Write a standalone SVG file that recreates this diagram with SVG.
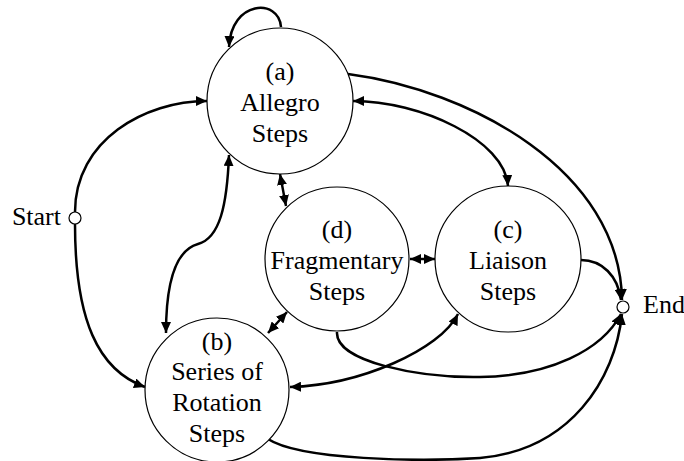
<svg xmlns="http://www.w3.org/2000/svg" width="684" height="461" viewBox="0 0 684 461">
<style>
.node{fill:#fff;stroke:#000;stroke-width:1.2}
.term{fill:#fff;stroke:#000;stroke-width:1.2}
.lbl{font-family:"Liberation Serif","Times New Roman",serif;font-size:26px;fill:#000;text-anchor:middle}
.side{font-family:"Liberation Serif","Times New Roman",serif;font-size:26px;fill:#000}
.edge{fill:none;stroke:#000;stroke-width:2.5}
.one{marker-end:url(#ah)}
.two{marker-end:url(#ah);marker-start:url(#ah)}
</style>
<defs>
<marker id="ah" markerUnits="userSpaceOnUse" markerWidth="12" markerHeight="10" refX="11" refY="5" orient="auto-start-reverse" viewBox="0 0 12 10">
<path d="M0,0 L11,5 L0,10 Z" fill="#000"/>
</marker>
</defs>
<g id="connectors">
<path class="edge one" d="M281,27 C279,-2 231,0 229,47"/>
<path class="edge one" d="M75,212 C75,140 145,101 207,101"/>
<path class="edge one" d="M75,224 C75,320 98,370 145,387"/>
<path class="edge two" d="M229,155 C227,205 220,238 198,244 C176,250 166,280 166,333"/>
<path class="edge two" d="M280,174 L286,206"/>
<path class="edge two" d="M410,259 L435,259"/>
<path class="edge two" d="M268,333 L287,312"/>
<path class="edge two" d="M353,101 C420,101 505,140 508,186"/>
<path class="edge one" d="M348,74 C470,90 620,170 622,300"/>
<path class="edge one" d="M581,260 C602,260 618,276 621,300"/>
<path class="edge one" d="M337,332 C335,362 420,378 480,377 C550,376 602,350 621,314"/>
<path class="edge one" d="M268,439 C300,460 420,462 480,458 C570,450 615,380 622,314"/>
<path class="edge two" d="M290,387 C360,385 440,350 458,314"/>
</g>
<g id="start">
<circle class="term" cx="75" cy="218" r="6"/>
<text class="side" x="61" y="225" text-anchor="end">Start</text>
</g>
<g id="end">
<circle class="term" cx="623" cy="307" r="6"/>
<text class="side" x="643" y="313">End</text>
</g>
<g id="node-a">
<circle class="node" cx="280" cy="101" r="73"/>
<text class="lbl" x="280" y="80">(a)</text>
<text class="lbl" x="280" y="111">Allegro</text>
<text class="lbl" x="280" y="142">Steps</text>
</g>
<g id="node-d">
<circle class="node" cx="337" cy="259" r="72"/>
<text class="lbl" x="337" y="238">(d)</text>
<text class="lbl" x="337" y="269">Fragmentary</text>
<text class="lbl" x="337" y="300">Steps</text>
</g>
<g id="node-c">
<circle class="node" cx="508" cy="259" r="73"/>
<text class="lbl" x="508" y="238">(c)</text>
<text class="lbl" x="508" y="269">Liaison</text>
<text class="lbl" x="508" y="300">Steps</text>
</g>
<g id="node-b">
<circle class="node" cx="217" cy="390" r="72"/>
<text class="lbl" x="217" y="350">(b)</text>
<text class="lbl" x="217" y="380">Series of</text>
<text class="lbl" x="217" y="411">Rotation</text>
<text class="lbl" x="217" y="442">Steps</text>
</g>
</svg>
